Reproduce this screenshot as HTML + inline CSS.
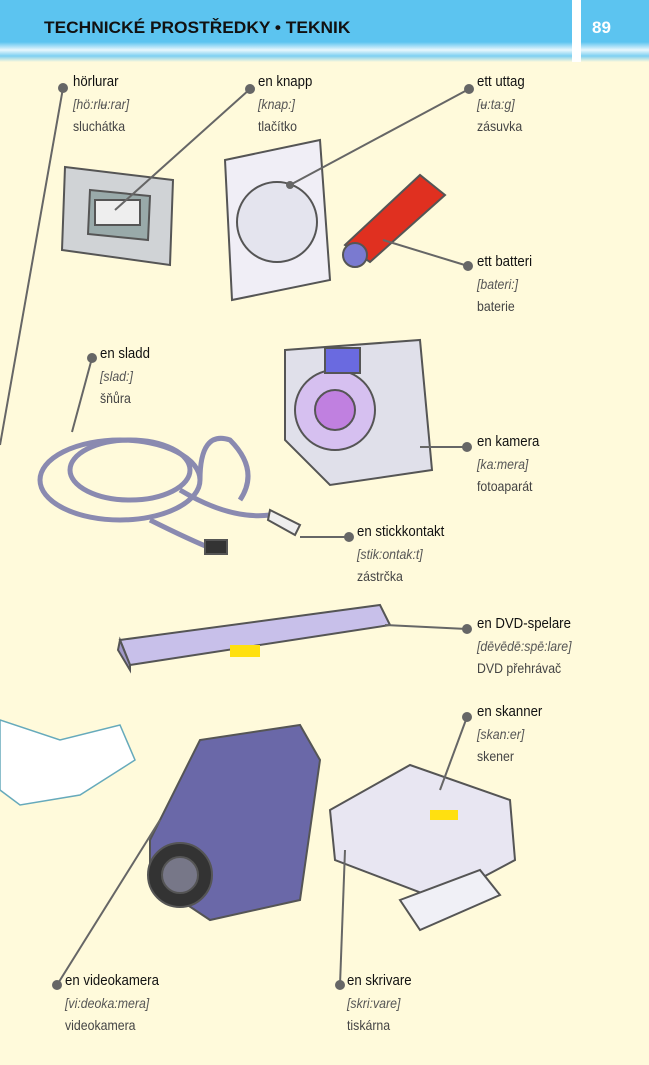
<!DOCTYPE html>
<html><head><meta charset="utf-8"><style>
body{margin:0;width:649px;height:1065px;background:#fffadb;position:relative;overflow:hidden;font-family:"Liberation Sans",sans-serif}
.hd{position:absolute;left:0;top:0;width:649px;height:62px;background:linear-gradient(#5cc4f0 0,#5cc4f0 42px,#e8f7fd 50px,#7dd0f2 56px,#fffadb 62px)}
.gap{position:absolute;left:572px;top:0;width:9px;height:62px;background:#fff}
.t{position:absolute;top:18px;left:44px;font-weight:bold;font-size:17px;color:#111;transform:scaleX(1.02);transform-origin:left top}
.pg{position:absolute;top:18px;left:592px;font-weight:bold;font-size:17px;color:#fff}
.l{position:absolute;font-size:14px;line-height:22px;color:#222;transform:scaleX(.88);transform-origin:left top;white-space:nowrap}
.l b{font-weight:normal;font-size:15px;color:#111}
.l i{color:#555;font-size:14px}
.l span{color:#444}
svg{position:absolute;left:0;top:0}
</style></head><body>
<div class="hd"></div><div class="gap"></div>
<div class="t">TECHNICKÉ PROSTŘEDKY • TEKNIK</div><div class="pg">89</div>
<svg width="649" height="1065">
<g fill="#e6e6ea" stroke="#555" stroke-width="2">
<path d="M65 167 L173 180 L170 265 L62 250Z" fill="#d0d3d6"/>
<path d="M90 190 L150 196 L148 240 L88 234Z" fill="#9aa"/>
<rect x="95" y="200" width="45" height="25" fill="#eee"/>
<path d="M225 160 L320 140 L330 280 L232 300Z" fill="#f0eef6"/>
<circle cx="277" cy="222" r="40" fill="#e4e4ee"/>
<path d="M345 245 L420 175 L445 195 L370 262Z" fill="#e03020"/>
<circle cx="355" cy="255" r="12" fill="#7a7ad0"/>
<path d="M285 350 L420 340 L432 470 L330 485 L285 440Z" fill="#e0e0ea"/>
<circle cx="335" cy="410" r="40" fill="#d6c0f0"/>
<circle cx="335" cy="410" r="20" fill="#c080e0"/>
<rect x="325" y="348" width="35" height="25" fill="#6a6ae0"/>
<g fill="none" stroke="#8a8ab0" stroke-width="5">
<ellipse cx="120" cy="480" rx="80" ry="40"/><ellipse cx="130" cy="470" rx="60" ry="30"/>
<path d="M180 490 Q230 520 270 515 M200 480 Q200 430 230 440 Q260 470 240 500"/>
<path d="M150 520 Q190 540 215 550"/>
</g>
<rect x="205" y="540" width="22" height="14" fill="#333"/>
<path d="M270 510 L300 525 L295 535 L268 520Z" fill="#eee"/>
<path d="M120 640 L380 605 L390 625 L130 665Z" fill="#c8c0ea"/>
<path d="M120 640 L130 665 L130 670 L118 650Z" fill="#a098c8"/>
<rect x="230" y="645" width="30" height="12" fill="#ffe010" stroke="none"/>
<path d="M0 720 L60 740 L120 725 L135 760 L80 795 L20 805 L0 790Z" fill="#ffffff" stroke="#6ab" stroke-width="1.5"/>
<path d="M150 840 L200 740 L300 725 L320 760 L300 900 L210 920 L150 880Z" fill="#6a68a8"/>
<circle cx="180" cy="875" r="32" fill="#333"/><circle cx="180" cy="875" r="18" fill="#778"/>
<path d="M330 810 L410 765 L510 800 L515 860 L440 900 L335 860Z" fill="#e8e6f2"/>
<path d="M400 900 L480 870 L500 895 L420 930Z" fill="#f0f0f6"/>
<rect x="430" y="810" width="28" height="10" fill="#ffe010" stroke="none"/>
</g>
<g stroke="#666" stroke-width="2" fill="#666">
<line x1="63" y1="88" x2="0" y2="445"/><circle cx="63" cy="88" r="4"/>
<line x1="250" y1="89" x2="115" y2="210"/><circle cx="250" cy="89" r="4"/>
<line x1="469" y1="89" x2="290" y2="185"/><circle cx="469" cy="89" r="4"/><circle cx="290" cy="185" r="3"/>
<line x1="468" y1="266" x2="383" y2="240"/><circle cx="468" cy="266" r="4"/>
<line x1="92" y1="358" x2="72" y2="432"/><circle cx="92" cy="358" r="4"/>
<line x1="467" y1="447" x2="420" y2="447"/><circle cx="467" cy="447" r="4"/>
<line x1="349" y1="537" x2="300" y2="537"/><circle cx="349" cy="537" r="4"/>
<line x1="467" y1="629" x2="385" y2="625"/><circle cx="467" cy="629" r="4"/>
<line x1="467" y1="717" x2="440" y2="790"/><circle cx="467" cy="717" r="4"/>
<line x1="57" y1="985" x2="160" y2="820"/><circle cx="57" cy="985" r="4"/>
<line x1="340" y1="985" x2="345" y2="850"/><circle cx="340" cy="985" r="4"/>
</g>
</svg>
<div class="l" style="left:73px;top:70px"><b>hörlurar</b><br><i>[hö:rlʉ:rar]</i><br><span>sluchátka</span></div>
<div class="l" style="left:258px;top:70px"><b>en knapp</b><br><i>[knap:]</i><br><span>tlačítko</span></div>
<div class="l" style="left:477px;top:70px"><b>ett uttag</b><br><i>[ʉ:ta:g]</i><br><span>zásuvka</span></div>
<div class="l" style="left:477px;top:250px"><b>ett batteri</b><br><i>[bateri:]</i><br><span>baterie</span></div>
<div class="l" style="left:100px;top:342px"><b>en sladd</b><br><i>[slad:]</i><br><span>šňůra</span></div>
<div class="l" style="left:477px;top:430px"><b>en kamera</b><br><i>[ka:mera]</i><br><span>fotoaparát</span></div>
<div class="l" style="left:357px;top:520px"><b>en stickkontakt</b><br><i>[stik:ontak:t]</i><br><span>zástrčka</span></div>
<div class="l" style="left:477px;top:612px"><b>en DVD-spelare</b><br><i>[dēvēdē:spē:lare]</i><br><span>DVD přehrávač</span></div>
<div class="l" style="left:477px;top:700px"><b>en skanner</b><br><i>[skan:er]</i><br><span>skener</span></div>
<div class="l" style="left:65px;top:969px"><b>en videokamera</b><br><i>[vi:deoka:mera]</i><br><span>videokamera</span></div>
<div class="l" style="left:347px;top:969px"><b>en skrivare</b><br><i>[skri:vare]</i><br><span>tiskárna</span></div>
</body></html>
